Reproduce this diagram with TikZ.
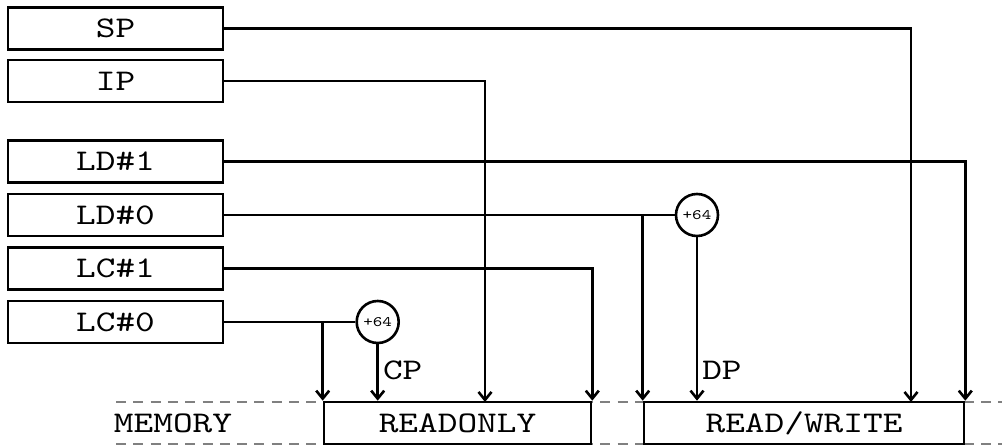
\documentclass[tikz,border=0pt]{standalone}
\usepackage{fontspec}
\setmonofont{lmmono10-regular.otf}[FakeStretch=1.25]
\usetikzlibrary{arrows.meta,calc}
\begin{document}
\begin{tikzpicture}[x=1pt,y=-1pt,
  reg/.style={draw,line width=2.6pt,fill=white,minimum width=215pt,minimum height=42pt,inner sep=0pt,
    font=\ttfamily\fontsize{30}{34}\selectfont},
  mem/.style={draw,line width=2.6pt,fill=white,minimum height=42pt,inner sep=0pt,
    font=\ttfamily\fontsize{30}{34}\selectfont},
  adder/.style={draw,circle,line width=2.6pt,fill=white,minimum size=42pt,inner sep=0pt,
    font=\ttfamily\fontsize{14.5}{16}\selectfont},
  lab/.style={font=\ttfamily\fontsize{30}{34}\selectfont,inner sep=0pt,anchor=base west},
  wire/.style={line width=2.6pt},
  arr/.style={line width=2.6pt,-{Straight Barb[length=8pt,width=13pt]}},
  guide/.style={gray,line width=1.2pt,dash pattern=on 10pt off 7.3pt}
]
\useasboundingbox (0,0) rectangle (1002,446);
% memory guide lines
\coordinate (gl1) at (116,402);
\coordinate (gr1) at (1002,402);
\coordinate (gl2) at (116,444);
\coordinate (gr2) at (1002,444);
\draw[guide] (gl1) -- (gr1);
\draw[guide] (gl2) -- (gr2);
\node[lab,anchor=center] (memlab) at (173,423) {MEMORY};
% registers
\node[reg] (SP) at (115.5,28.5) {SP};
\node[reg] (IP) at (115.5,81) {IP};
\node[reg] (LD1) at (115.5,161.5) {LD\#1};
\node[reg] (LD0) at (115.5,215) {LD\#0};
\node[reg] (LC1) at (115.5,268.5) {LC\#1};
\node[reg] (LC0) at (115.5,322) {LC\#0};
% memory areas
\node[mem,minimum width=267pt] (RO) at (457.5,423) {READONLY};
\node[mem,minimum width=320pt] (RW) at (804,423) {READ/WRITE};
% adders
\node[adder] (A0) at (377.7,322) {+64};
\node[adder] (A1) at (697,215) {+64};
% targets
\coordinate (roip) at (485,402);
\coordinate (rwsp) at (911,402);
% connectors
\draw[arr] (SP.east) -| (rwsp);
\draw[arr] (IP.east) -| (roip);
\draw[arr] (LD1.east) -| (RW.north east);
\draw[wire] (LD0.east) -- (A1.west);
\draw[arr] (RW.north west |- LD0.east) -- (RW.north west);
\draw[arr] (A1.south) -- (A1.south |- RW.north) node[lab,xshift=4pt,yshift=21pt] {DP};
\draw[arr] (LC1.east) -| (RO.north east);
\draw[wire] (LC0.east) -- (A0.west);
\draw[arr] (RO.north west |- LC0.east) -- (RO.north west);
\draw[arr] (A0.south) -- (A0.south |- RO.north) node[lab,xshift=4pt,yshift=21pt] {CP};
\end{tikzpicture}
\end{document}
